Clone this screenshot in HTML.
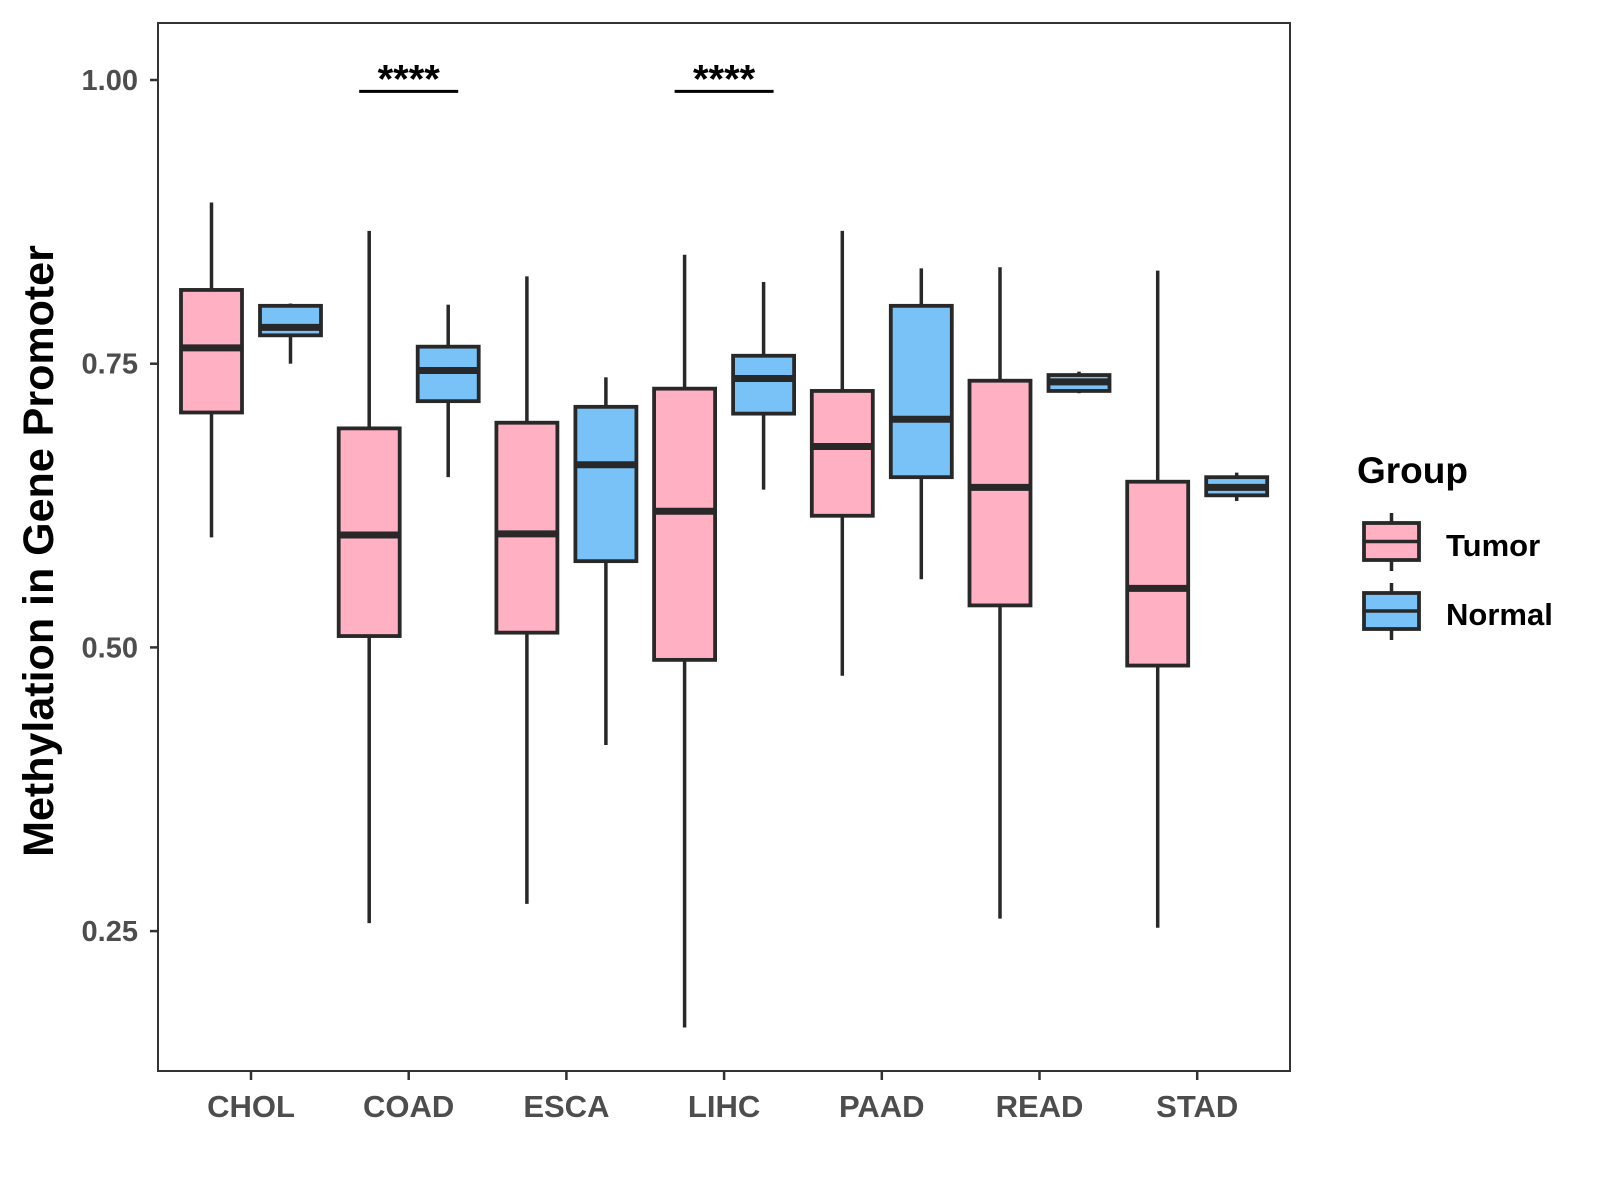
<!DOCTYPE html>
<html><head><meta charset="utf-8"><style>
html,body{margin:0;padding:0;background:#fff;}
svg{display:block;font-family:"Liberation Sans",sans-serif;font-weight:bold;}
</style></head><body>
<svg id="chart" width="1600" height="1200" viewBox="0 0 1600 1200"></svg>
<script>
const categories = ["CHOL","COAD","ESCA","LIHC","PAAD","READ","STAD"];
const yTicks = [0.25,0.50,0.75,1.00];
const yTickLabels = ["0.25","0.50","0.75","1.00"];
// [low, q1, median, q3, high]
const tumorStats = [
 [0.597,0.707,0.764,0.815,0.892],
 [0.257,0.510,0.599,0.693,0.867],
 [0.274,0.513,0.600,0.698,0.827],
 [0.165,0.489,0.620,0.728,0.846],
 [0.475,0.616,0.677,0.726,0.867],
 [0.261,0.537,0.641,0.735,0.835],
 [0.253,0.484,0.552,0.646,0.832]];
const normalStats = [
 [0.750,0.775,0.782,0.801,0.803],
 [0.650,0.717,0.744,0.765,0.802],
 [0.414,0.576,0.661,0.712,0.738],
 [0.639,0.706,0.737,0.757,0.822],
 [0.560,0.650,0.701,0.801,0.834],
 [0.724,0.726,0.734,0.740,0.743],
 [0.629,0.634,0.641,0.650,0.654]];
const sigCategories = ["COAD","LIHC"];
const sigLabels = ["****","****"];
const sigLevel = 0.99;

const NS="http://www.w3.org/2000/svg";
const svg=document.getElementById('chart');
const P={l:158,r:1290,t:23,b:1071};
const y=v=>80+(1-v)*1134.8;
const xc=i=>251+i*157.7;
function mk(tag,attrs,parent){const e=document.createElementNS(NS,tag);for(const k in attrs)e.setAttribute(k,attrs[k]);(parent||svg).appendChild(e);return e;}

const panel=mk('rect',{x:P.l,y:P.t,width:P.r-P.l,height:P.b-P.t,fill:'none',stroke:'#333',"stroke-width":2});



yTicks.forEach((v,i)=>{
 const t=mk('line',{x1:P.l-8,x2:P.l,y1:y(v),y2:y(v),stroke:'#333',"stroke-width":2.5});
 
 
 const l=mk('text',{x:P.l-20,y:y(v)+10,"text-anchor":'end',"font-size":29,fill:'#4d4d4d'});
 l.textContent=yTickLabels[i];
 
 
});
categories.forEach((c,i)=>{
 const t=mk('line',{x1:xc(i),x2:xc(i),y1:P.b,y2:P.b+9,stroke:'#333',"stroke-width":2.5});
 
 
 const l=mk('text',{x:xc(i),y:P.b+46,"text-anchor":'middle',"font-size":31,fill:'#4d4d4d'});
 l.textContent=c;
 
 
});

function box(cx,s,fill,name){
 const g=mk('g',{});
 
 
 const w=61;
 mk('line',{x1:cx,x2:cx,y1:y(s[4]),y2:y(s[3]),stroke:'#282828',"stroke-width":3.5},g);
 mk('line',{x1:cx,x2:cx,y1:y(s[1]),y2:y(s[0]),stroke:'#282828',"stroke-width":3.5},g);
 mk('rect',{x:cx-w/2,y:y(s[3]),width:w,height:Math.max(1,y(s[1])-y(s[3])),fill:fill,stroke:'#282828',"stroke-width":3.8},g);
 mk('line',{x1:cx-w/2,x2:cx+w/2,y1:y(s[2]),y2:y(s[2]),stroke:'#282828',"stroke-width":7},g);
}
categories.forEach((c,i)=>{
 box(xc(i)-39.5,tumorStats[i],'#FFB0C3','box-tumor-'+c.toLowerCase());
 box(xc(i)+39.5,normalStats[i],'#78C2F8','box-normal-'+c.toLowerCase());
});
sigCategories.forEach((c,k)=>{
 const i=categories.indexOf(c);
 const ln=mk('line',{x1:xc(i)-49.5,x2:xc(i)+49.5,y1:y(sigLevel),y2:y(sigLevel),stroke:'#000',"stroke-width":3});
 
 
 const t=mk('text',{x:xc(i),y:y(sigLevel)+1,"text-anchor":'middle',"font-size":40,fill:'#000'});
 t.textContent=sigLabels[k];
 
 
});
</script>
<svg style="position:absolute;left:0;top:0" width="1600" height="1200">
<text x="39" y="551" transform="rotate(-90 39 551)" text-anchor="middle" dominant-baseline="central" font-size="43" fill="#000">Methylation in Gene Promoter</text>
<g>
<text x="1357" y="483" font-size="37" fill="#000">Group</text>
<g>
<line x1="1391.5" x2="1391.5" y1="513" y2="571" stroke="#282828" stroke-width="3.5"/>
<rect x="1364" y="523" width="55" height="37" fill="#FFB0C3" stroke="#282828" stroke-width="3.8"/>
<line x1="1364" x2="1419" y1="541.5" y2="541.5" stroke="#282828" stroke-width="3.5"/>
<text x="1446" y="556" font-size="31" fill="#000">Tumor</text>
</g>
<g>
<line x1="1391.5" x2="1391.5" y1="583" y2="640" stroke="#282828" stroke-width="3.5"/>
<rect x="1364" y="593" width="55" height="36" fill="#78C2F8" stroke="#282828" stroke-width="3.8"/>
<line x1="1364" x2="1419" y1="611" y2="611" stroke="#282828" stroke-width="3.5"/>
<text x="1446" y="625" font-size="31" fill="#000">Normal</text>
</g>
</g>
</svg>
</body></html>
